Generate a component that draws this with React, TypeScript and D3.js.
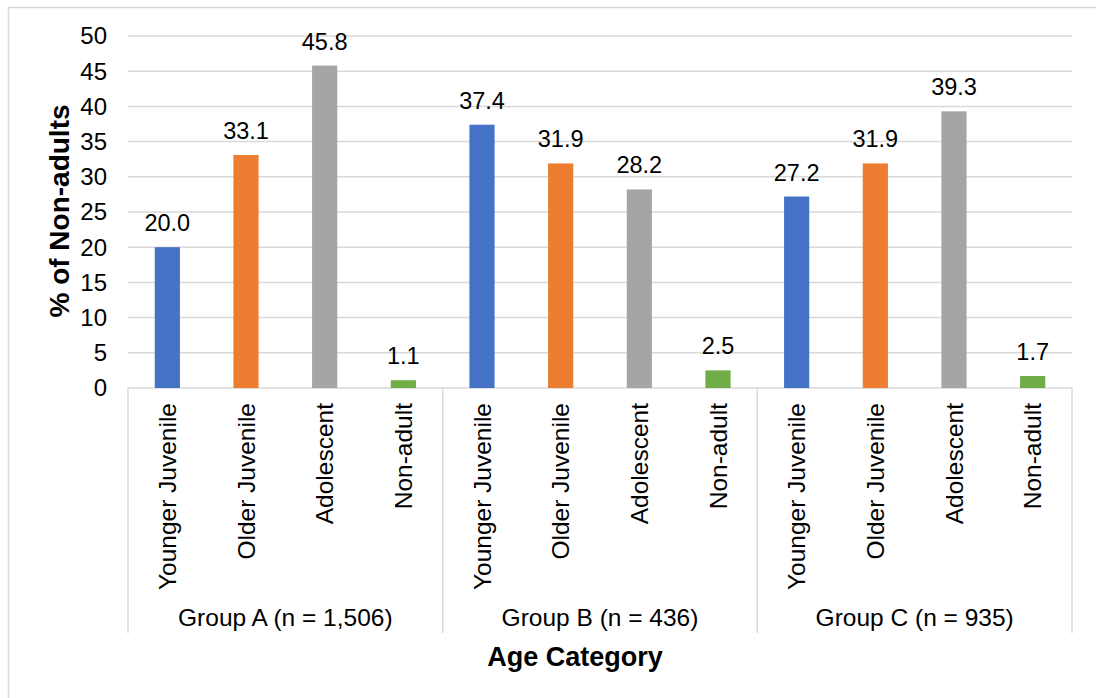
import React from "react";
import * as d3 from "d3";

const groups = ["Group A (n = 1,506)", "Group B (n = 436)", "Group C (n = 935)"];
const categories = ["Younger Juvenile", "Older Juvenile", "Adolescent", "Non-adult"];
const groupAValues = [20.0, 33.1, 45.8, 1.1];
const groupBValues = [37.4, 31.9, 28.2, 2.5];
const groupCValues = [27.2, 31.9, 39.3, 1.7];
const yTicks = [0, 5, 10, 15, 20, 25, 30, 35, 40, 45, 50];
const colors = ["#4472C4", "#ED7D31", "#A5A5A5", "#70AD47"];

const W = 1096;
const H = 698;
const plotLeft = 128;
const plotRight = 1072;
const plotTop = 36;
const plotBottom = 388;
const FONT = "Arial, 'Liberation Sans', sans-serif";

export default function App() {
  const values = [groupAValues, groupBValues, groupCValues];
  const y = d3.scaleLinear().domain([0, 50]).range([plotBottom, plotTop]);
  const gx = d3.scaleBand<string>().domain(groups).range([plotLeft, plotRight]).padding(0);
  const cx = d3.scaleBand<string>().domain(categories).range([0, gx.bandwidth()]).padding(0);
  const barW = cx.bandwidth() * 0.32;
  const grid = "#d9d9d9";

  return (
    <svg
      width={W}
      height={H}
      style={{ position: "absolute", left: 0, top: 0, background: "#fff" }}
      fontFamily={FONT}
    >
      <rect x={0} y={0} width={W} height={H} fill="#fff" />
      {/* outer chart border */}
      <line x1={8.5} x2={8.5} y1={7} y2={H} stroke={grid} strokeWidth={1.5} />
      <line x1={8} x2={W} y1={7.5} y2={7.5} stroke={grid} strokeWidth={1.5} />

      {/* gridlines + tick labels */}
      {yTicks.map((t) => (
        <g key={t}>
          {t > 0 && (
            <line x1={plotLeft} x2={plotRight} y1={y(t)} y2={y(t)} stroke={grid} strokeWidth={1.5} />
          )}
          <text x={107} y={y(t)} dy="0.35em" textAnchor="end" fontSize={24} fill="#000">
            {t}
          </text>
        </g>
      ))}

      {/* category axis */}
      <line x1={plotLeft} x2={plotRight} y1={plotBottom} y2={plotBottom} stroke={grid} strokeWidth={1.5} />
      {[...groups.map((g) => gx(g)!), plotRight].map((x, i) => (
        <line key={i} x1={x} x2={x} y1={plotBottom} y2={633} stroke={grid} strokeWidth={1.5} />
      ))}

      {groups.map((g, gi) => (
        <g key={g}>
          {categories.map((c, ci) => {
            const v = values[gi][ci];
            const center = gx(g)! + cx(c)! + cx.bandwidth() / 2;
            return (
              <g key={c}>
                <rect x={center - barW / 2} y={y(v)} width={barW} height={y(0) - y(v)} fill={colors[ci]} />
                <text x={center} y={y(v) - 16} textAnchor="middle" fontSize={23.5} fill="#000">
                  {v.toFixed(1)}
                </text>
                <text
                  transform={`translate(${center},403) rotate(-90)`}
                  textAnchor="end"
                  dy="0.35em"
                  fontSize={24.5}
                  fill="#000"
                >
                  {c}
                </text>
              </g>
            );
          })}
          <text x={gx(g)! + gx.bandwidth() / 2} y={626} textAnchor="middle" fontSize={24.5} fill="#000">
            {g}
          </text>
        </g>
      ))}

      {/* axis titles */}
      <text
        transform={`translate(69,211) rotate(-90)`}
        textAnchor="middle"
        fontSize={28}
        fontWeight="bold"
        fill="#000"
      >
        % of Non-adults
      </text>
      <text x={(plotLeft + plotRight) / 2 - 25} y={666} textAnchor="middle" fontSize={27} fontWeight="bold" fill="#000">
        Age Category
      </text>
    </svg>
  );
}
